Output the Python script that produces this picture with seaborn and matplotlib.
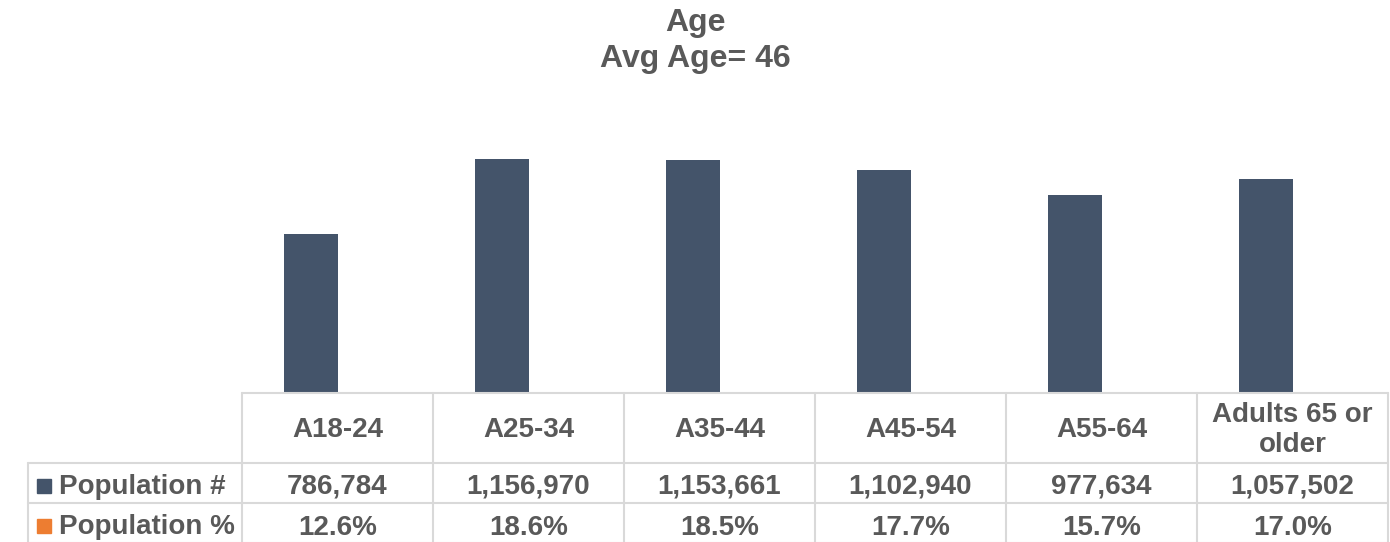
import pandas as pd
import seaborn as sns
import matplotlib.pyplot as plt
from matplotlib.patches import Rectangle

categories = ["A18-24", "A25-34", "A35-44", "A45-54", "A55-64", "Adults 65 or\nolder"]
population = [786784, 1156970, 1153661, 1102940, 977634, 1057502]
population_pct = [12.6, 18.6, 18.5, 17.7, 15.7, 17.0]
series_names = ["Population #", "Population %"]
series_colors = ["#44546A", "#ED7D31"]

TEXT = "#595959"
GRID = "#D9D9D9"
FS = 20

sns.set_theme(style="white")
plt.rcParams['font.family'] = ['Liberation Sans', 'DejaVu Sans']

W, H = 1390, 542
fig = plt.figure(figsize=(W / 100, H / 100), dpi=100)
x0, x1, base, top = 242, 1388, 393, 110
ax = fig.add_axes([x0 / W, (H - base) / H, (x1 - x0) / W, (base - top) / H])

# both series are plotted as clustered columns; the % one is too small to see
df = pd.DataFrame({
    "cat": categories * 2,
    "val": population + population_pct,
    "series": [series_names[0]] * len(categories) + [series_names[1]] * len(categories),
})
sns.barplot(data=df, x="cat", y="val", hue="series", palette=series_colors,
            saturation=1, width=0.565, linewidth=0, legend=False, ax=ax)
ax.set_xlim(-0.5, len(categories) - 0.5)
ax.set_ylim(0, 1400000)
ax.axis("off")

fig.text(0.5, 1 - 23 / H, "Age", ha="center", va="center", fontsize=23,
         fontweight="bold", color=TEXT)
fig.text(0.5, 1 - 59 / H, "Avg Age= 46", ha="center", va="center", fontsize=23,
         fontweight="bold", color=TEXT)

# data table under the bars, in pixel coords
def fy(py):
    return (H - py) / H

def fx(px):
    return px / W

rows = [393, 463, 503, 543]
lw = 1.5
col_w = (x1 - x0) / len(categories)
cols = [x0 + i * col_w for i in range(len(categories) + 1)]
fig.add_artist(plt.Line2D([fx(x0), fx(x1)], [fy(rows[0])] * 2, color=GRID, lw=lw))
for r in rows[1:]:
    fig.add_artist(plt.Line2D([fx(28), fx(x1)], [fy(r)] * 2, color=GRID, lw=lw))
for c in cols:
    fig.add_artist(plt.Line2D([fx(c)] * 2, [fy(rows[0]), fy(rows[-1])], color=GRID, lw=lw))
fig.add_artist(plt.Line2D([fx(28)] * 2, [fy(rows[1]), fy(rows[-1])], color=GRID, lw=lw))

for i, cat in enumerate(categories):
    cx = fx(x0 + (i + 0.5) * col_w)
    fig.text(cx, fy((rows[0] + rows[1]) / 2 + 2), cat, ha="center", va="center",
             fontsize=FS, fontweight="bold", color=TEXT, linespacing=1.15)
    fig.text(cx, fy((rows[1] + rows[2]) / 2 + 4), f"{population[i]:,}", ha="center",
             va="center", fontsize=FS, fontweight="bold", color=TEXT)
    fig.text(cx, fy((rows[2] + rows[3]) / 2 + 5), f"{population_pct[i]:.1f}%", ha="center",
             va="center", fontsize=FS, fontweight="bold", color=TEXT)

for j, (name, col) in enumerate(zip(series_names, series_colors)):
    cy = (rows[j + 1] + rows[j + 2]) / 2 + 3
    fig.add_artist(Rectangle((fx(37), fy(cy + 7)), 14 / W, 14 / H, color=col,
                             transform=fig.transFigure))
    fig.text(fx(59), fy(cy + 1), name, ha="left", va="center", fontsize=FS,
             fontweight="bold", color=TEXT)

fig.savefig("out.png", dpi=100, facecolor="white")
